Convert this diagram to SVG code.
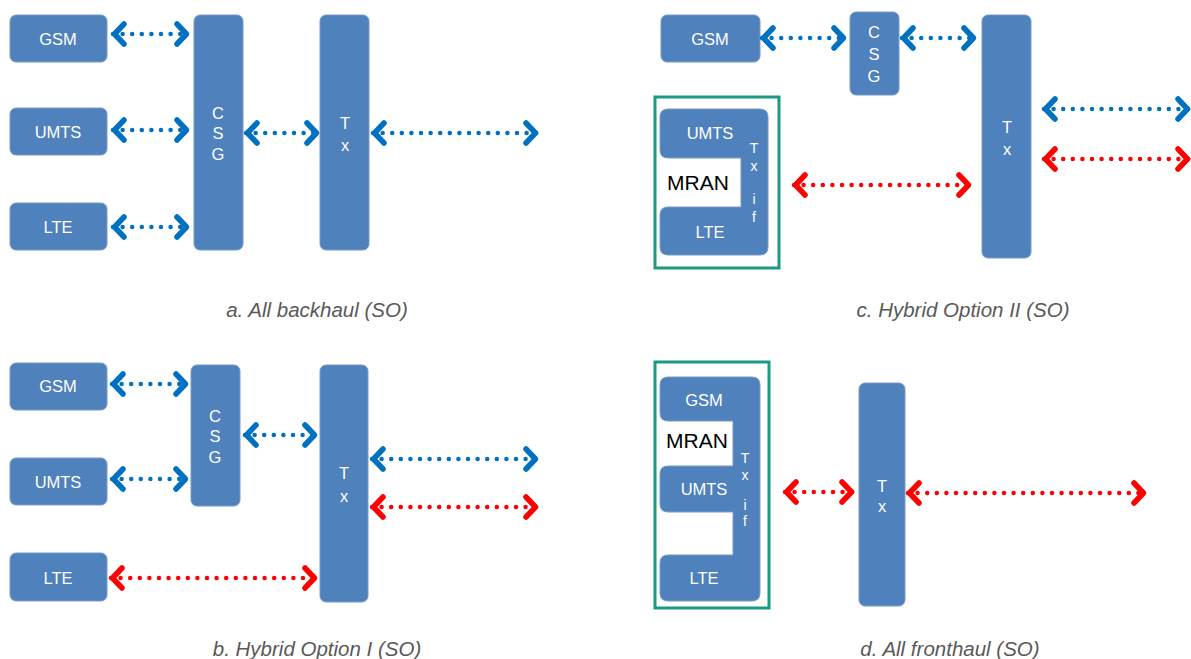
<svg xmlns="http://www.w3.org/2000/svg" width="1191" height="659" viewBox="0 0 1191 659">
  <style>
    .box { fill: #4f81bd; stroke: #7a9acb; stroke-width: 1; }
    .lbl { fill: #ffffff; font-family: "Liberation Sans", Arial, sans-serif; font-size: 16.5px; text-anchor: middle; dominant-baseline: central; }
    .vlbl { fill: #ffffff; font-family: "Liberation Sans", Arial, sans-serif; font-size: 16.5px; text-anchor: middle; dominant-baseline: central; }
    .tif { fill: #ffffff; font-family: "Liberation Sans", Arial, sans-serif; font-size: 14px; text-anchor: middle; dominant-baseline: central; }
    .mran { fill: #000000; font-family: "Liberation Sans", Arial, sans-serif; font-size: 21px; text-anchor: middle; dominant-baseline: central; }
    .frame { fill: #ffffff; stroke: #1a9a82; stroke-width: 3; }
    .cap { fill: #595959; font-family: "Liberation Sans", Arial, sans-serif; font-size: 20.5px; font-style: italic; text-anchor: middle; dominant-baseline: central; }
    .dots { fill: none; stroke-width: 4.5; stroke-linecap: round; stroke-dasharray: 0 9.6; }
    .blue { stroke: #0070c0; marker-start: url(#chev-b); marker-end: url(#chev-b); }
    .red { stroke: #ff0000; marker-start: url(#chev-r); marker-end: url(#chev-r); }
  </style>
  <defs>
    <marker id="chev-b" viewBox="-16 -16 20 32" markerWidth="20" markerHeight="32" refX="0" refY="0" orient="auto-start-reverse" markerUnits="userSpaceOnUse">
      <polyline points="-11,-10 -1.5,0 -11,10" fill="none" stroke="#0070c0" stroke-width="5.5" stroke-linecap="round" stroke-linejoin="round"/>
    </marker>
    <marker id="chev-r" viewBox="-16 -16 20 32" markerWidth="20" markerHeight="32" refX="0" refY="0" orient="auto-start-reverse" markerUnits="userSpaceOnUse">
      <polyline points="-11,-10 -1.5,0 -11,10" fill="none" stroke="#ff0000" stroke-width="5.5" stroke-linecap="round" stroke-linejoin="round"/>
    </marker>
  </defs>
  <rect width="1191" height="659" fill="#ffffff"/>

  <!-- a. All backhaul -->
  <g id="a-gsm"><rect class="box" x="10" y="15" width="97" height="47" rx="6"/><text class="lbl" x="58" y="39">GSM</text></g>
  <g id="a-umts"><rect class="box" x="10" y="108" width="97" height="47" rx="6"/><text class="lbl" x="58" y="132">UMTS</text></g>
  <g id="a-lte"><rect class="box" x="10" y="203" width="97" height="47" rx="6"/><text class="lbl" x="58" y="227">LTE</text></g>
  <g id="a-csg"><rect class="box" x="194" y="15" width="49" height="235" rx="6"/>
    <text class="vlbl" x="218" y="113">C</text><text class="vlbl" x="218" y="133">S</text><text class="vlbl" x="218" y="154">G</text></g>
  <g id="a-tx"><rect class="box" x="320" y="15" width="49" height="235" rx="6"/>
    <text class="vlbl" x="345" y="123">T</text><text class="vlbl" x="345" y="145">x</text></g>

  <!-- b. Hybrid Option I -->
  <g id="b-gsm"><rect class="box" x="10" y="363" width="97" height="47" rx="6"/><text class="lbl" x="58" y="386">GSM</text></g>
  <g id="b-umts"><rect class="box" x="10" y="458" width="97" height="47" rx="6"/><text class="lbl" x="58" y="482">UMTS</text></g>
  <g id="b-lte"><rect class="box" x="10" y="553" width="97" height="48" rx="6"/><text class="lbl" x="58" y="578">LTE</text></g>
  <g id="b-csg"><rect class="box" x="191" y="365" width="49" height="141" rx="6"/>
    <text class="vlbl" x="215" y="416">C</text><text class="vlbl" x="215" y="436">S</text><text class="vlbl" x="215" y="457">G</text></g>
  <g id="b-tx"><rect class="box" x="320" y="365" width="48" height="237" rx="6"/>
    <text class="vlbl" x="344" y="473">T</text><text class="vlbl" x="344" y="496">x</text></g>

  <!-- c. Hybrid Option II -->
  <g id="c-gsm"><rect class="box" x="661" y="15" width="99" height="47" rx="6"/><text class="lbl" x="710" y="39">GSM</text></g>
  <g id="c-csg"><rect class="box" x="850" y="12" width="49" height="83" rx="6"/>
    <text class="vlbl" x="874" y="32">C</text><text class="vlbl" x="874" y="54">S</text><text class="vlbl" x="874" y="76">G</text></g>
  <g id="c-tx"><rect class="box" x="982" y="15" width="49" height="243" rx="6"/>
    <text class="vlbl" x="1007" y="127">T</text><text class="vlbl" x="1007" y="149">x</text></g>
  <g id="c-mran">
    <rect class="frame" x="655" y="97" width="124" height="171"/>
    <path class="box" d="M668,109 H760 Q768,109 768,117 V247 Q768,255 760,255 H668 Q660,255 660,247 V215 Q660,207 668,207 H741 V158 H668 Q660,158 660,150 V117 Q660,109 668,109 Z"/>
    <text class="lbl" x="710" y="133">UMTS</text>
    <text class="mran" x="698" y="182">MRAN</text>
    <text class="lbl" x="710" y="232">LTE</text>
    <text class="tif" x="754" y="148">T</text><text class="tif" x="754" y="166">x</text>
    <text class="tif" x="754" y="199">i</text><text class="tif" x="754" y="217">f</text>
  </g>

  <!-- d. All fronthaul -->
  <g id="d-mran">
    <rect class="frame" x="655" y="362" width="114" height="246"/>
    <path class="box" d="M668,377 H752 Q760,377 760,385 V593 Q760,601 752,601 H668 Q660,601 660,593 V563 Q660,555 668,555 H733 V512 H668 Q660,512 660,504 V474 Q660,466 668,466 H733 V421 H668 Q660,421 660,413 V385 Q660,377 668,377 Z"/>
    <text class="lbl" x="704" y="400">GSM</text>
    <text class="mran" x="697" y="440">MRAN</text>
    <text class="lbl" x="704" y="489">UMTS</text>
    <text class="lbl" x="704" y="578">LTE</text>
    <text class="tif" x="745" y="458">T</text><text class="tif" x="745" y="475">x</text>
    <text class="tif" x="745" y="505">i</text><text class="tif" x="745" y="521">f</text>
  </g>
  <g id="d-tx"><rect class="box" x="859" y="383" width="46" height="223" rx="6"/>
    <text class="vlbl" x="882" y="486">T</text><text class="vlbl" x="882" y="506">x</text></g>

  <!-- connectors -->
  <g id="connectors">
    <path class="dots blue" d="M113,34 H188"/>
    <path class="dots blue" d="M113,130 H188"/>
    <path class="dots blue" d="M113,227 H188"/>
    <path class="dots blue" d="M246,133 H318"/>
    <path class="dots blue" d="M373,133 H537"/>

    <path class="dots blue" d="M112,384 H187"/>
    <path class="dots blue" d="M112,479 H187"/>
    <path class="dots red" d="M111,578 H316"/>
    <path class="dots blue" d="M245,435 H316"/>
    <path class="dots blue" d="M372,459 H537"/>
    <path class="dots red" d="M372,507 H537"/>

    <path class="dots blue" d="M762,38 H845"/>
    <path class="dots blue" d="M902,38 H975"/>
    <path class="dots red" d="M794,185 H970"/>
    <path class="dots blue" d="M1044,109 H1189"/>
    <path class="dots red" d="M1044,159 H1189"/>

    <path class="dots red" d="M785,492 H853"/>
    <path class="dots red" d="M908,493 H1145"/>
  </g>

  <!-- captions -->
  <text class="cap" x="317" y="309">a. All backhaul (SO)</text>
  <text class="cap" x="963" y="309">c. Hybrid Option II (SO)</text>
  <text class="cap" x="317" y="648">b. Hybrid Option I (SO)</text>
  <text class="cap" x="950" y="648">d. All fronthaul (SO)</text>
</svg>
